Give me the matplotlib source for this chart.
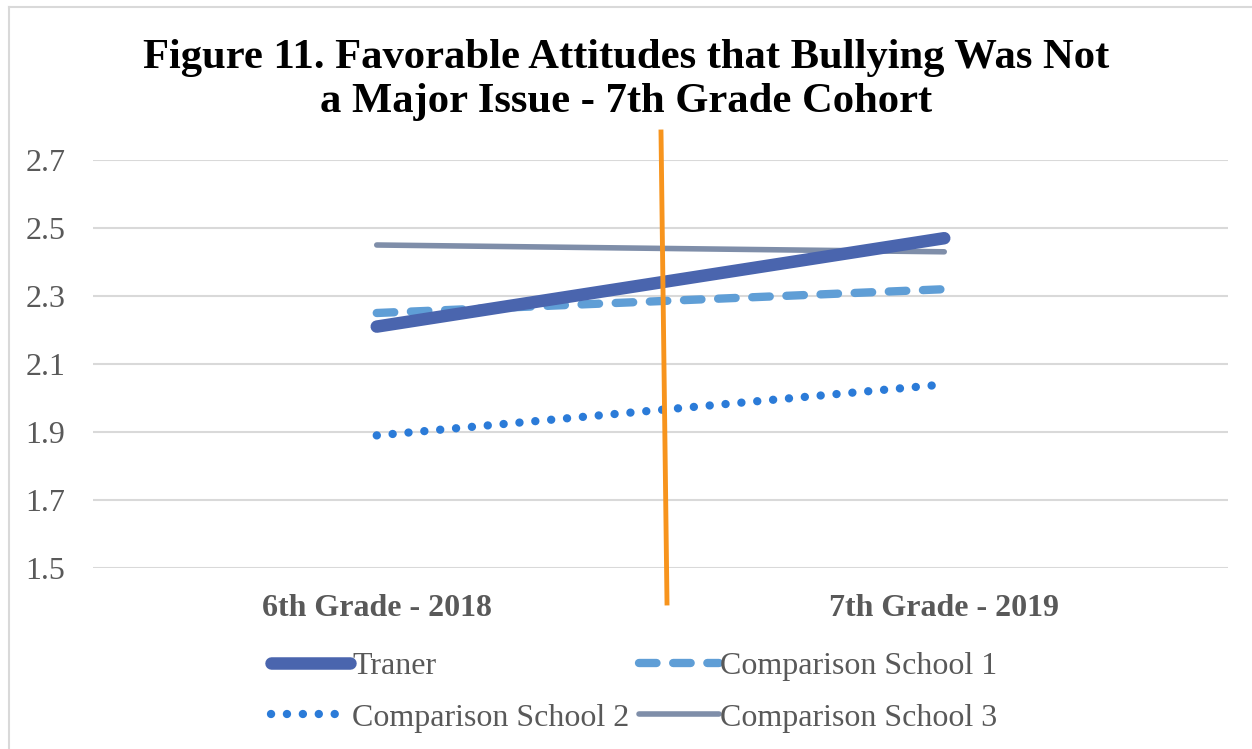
import matplotlib.pyplot as plt
from matplotlib.lines import Line2D

# chart data
categories = ["6th Grade - 2018", "7th Grade - 2019"]
traner = [2.21, 2.47]
school1 = [2.25, 2.32]
school2 = [1.89, 2.04]
school3 = [2.45, 2.43]
yticks = [1.5, 1.7, 1.9, 2.1, 2.3, 2.5, 2.7]

W, H = 1252, 749
plt.rcParams['font.family'] = ['Liberation Serif', 'DejaVu Serif']

fig = plt.figure(figsize=(W / 100, H / 100), dpi=100)
# axes: plot area x 93..1228, y 160(2.7)..568(1.5)
ax = fig.add_axes([93 / W, 1 - 568 / H, (1228 - 93) / W, (568 - 160) / H])

x = [0, 1]
l1, = ax.plot(x, traner, color='#4A65AE', lw=9, solid_capstyle='round', label='Traner', zorder=4)
l2, = ax.plot(x, school1, color='#5F9ED6', lw=6, dashes=(2.1, 2.0), dash_capstyle='round',
              label='Comparison School 1', zorder=3)
l3, = ax.plot(x, school2, color='#2B7BD8', lw=6, dashes=(0.01, 1.9), dash_capstyle='round',
              label='Comparison School 2', zorder=3)
l4, = ax.plot(x, school3, color='#7F8EA9', lw=4, solid_capstyle='round',
              label='Comparison School 3', zorder=3)

ax.set_xlim(-0.5, 1.5)
ax.set_ylim(1.5, 2.7)
ax.set_yticks(yticks)
ax.set_yticklabels([f"{v:.1f}" for v in yticks], fontsize=23, color='#595959')
ax.set_xticks(x)
ax.set_xticklabels(categories, fontsize=23, fontweight='bold', color='#595959')
ax.tick_params(axis='both', length=0)
ax.tick_params(axis='y', pad=20)
ax.tick_params(axis='x', pad=19)
ax.grid(axis='y', color='#D9D9D9', lw=1.5)
ax.set_axisbelow(True)
for s in ax.spines.values():
    s.set_visible(False)

fig.text(0.5, 1 - 58 / H, "Figure 11. Favorable Attitudes that Bullying Was Not",
         ha='center', va='center', fontsize=30.7, fontweight='bold')
fig.text(0.5, 1 - 102 / H, "a Major Issue - 7th Grade Cohort",
         ha='center', va='center', fontsize=30.7, fontweight='bold')

# matplotlib fills legend columns first, so order handles to read row by row
leg = fig.legend([l1, l3, l2, l4], [l1.get_label(), l3.get_label(), l2.get_label(), l4.get_label()],
                 loc='center', bbox_to_anchor=(634 / W, 1 - 692 / H), ncol=2, frameon=False,
                 fontsize=23, labelcolor='#595959', handlelength=2.5, handletextpad=0.05,
                 columnspacing=0.3, labelspacing=0.7)

# orange divider drawn over the chart
fig.add_artist(Line2D([661 / W, 667 / W], [1 - 132 / H, 1 - 603 / H], color='#F7941D', lw=3.5))
# chart border
fig.add_artist(Line2D([9 / W, 9 / W], [0, 1 - 7 / H], color='#D9D9D9', lw=1.5))
fig.add_artist(Line2D([9 / W, 1], [1 - 7 / H, 1 - 7 / H], color='#D9D9D9', lw=1.5))

fig.savefig("out.png", dpi=100)
